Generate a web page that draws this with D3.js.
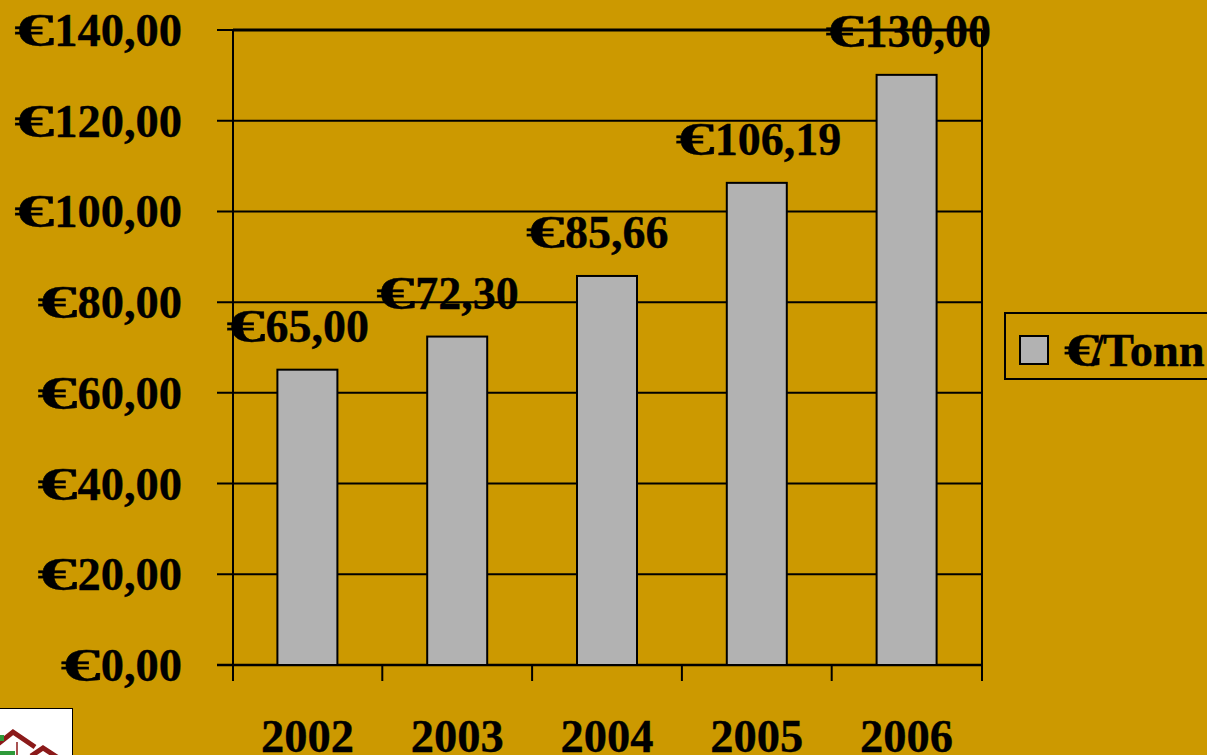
<!DOCTYPE html>
<html><head><meta charset="utf-8">
<script src="https://cdnjs.cloudflare.com/ajax/libs/d3/7.8.5/d3.min.js"></script>
<style>html,body{margin:0;padding:0;background:#cc9900;overflow:hidden}svg{display:block}text{font-family:"Liberation Serif",serif;font-weight:bold;fill:#000;stroke:#000;stroke-width:.35px}</style>
</head><body><svg id="c" width="1207" height="755"></svg>
<script>
const categories=["2002","2003","2004","2005","2006"];
const values=[65.00,72.30,85.66,106.19,130.00];
const valueLabels=["€65,00","€72,30","€85,66","€106,19","€130,00"];
const yTicks=[0,20,40,60,80,100,120,140];
const yTickLabels=["€0,00","€20,00","€40,00","€60,00","€80,00","€100,00","€120,00","€140,00"];
const legendLabel="€/Tonn";
const svg=d3.select("#c");
const L=233,R=982,T=30,B=665;
const x=d3.scaleBand().domain(categories).range([L,R]);
const y=d3.scaleLinear().domain([0,140]).range([B,T]);
const barW=60,fs=46.5,euroW=40;
const cx=d=>x(d)+x.bandwidth()/2;
// writes a label as one text with a widened euro sign
function euro(sel,get,w){
  sel.each(function(d,i){
    const s=get(d,i),t=d3.select(this);
    t.append("tspan").attr("textLength",w).attr("lengthAdjust","spacingAndGlyphs").text(s[0]);
    t.append("tspan").text(s.slice(1));
  });
}
svg.append("g").selectAll("line").data(yTicks).join("line")
 .attr("x1",217).attr("x2",R).attr("y1",d=>y(d)).attr("y2",d=>y(d))
 .attr("stroke","#000").attr("stroke-width",d=>d===0?2.5:2);
svg.append("line").attr("x1",L).attr("x2",R).attr("y1",y(140)).attr("y2",y(140)).attr("stroke","#000").attr("stroke-width",3);
svg.append("line").attr("x1",L).attr("x2",L).attr("y1",T).attr("y2",681).attr("stroke","#000").attr("stroke-width",2);
svg.append("line").attr("x1",R).attr("x2",R).attr("y1",T).attr("y2",681).attr("stroke","#000").attr("stroke-width",2);
svg.append("g").selectAll("line").data(categories.slice(1)).join("line")
 .attr("x1",d=>x(d)-.5).attr("x2",d=>x(d)-.5).attr("y1",B).attr("y2",681).attr("stroke","#000").attr("stroke-width",2);
svg.append("g").selectAll("rect").data(categories).join("rect")
 .attr("x",d=>cx(d)-barW/2-.5).attr("width",barW)
 .attr("y",(d,i)=>y(values[i])-.5).attr("height",(d,i)=>B-y(values[i])+.5)
 .attr("fill","#b2b2b2").attr("stroke","#000").attr("stroke-width",2);
svg.append("g").selectAll("text").data(yTicks).join("text")
 .attr("x",182).attr("y",d=>y(d)+16).attr("text-anchor","end").attr("font-size",fs)
 .call(euro,(d,i)=>yTickLabels[i],euroW);
svg.append("g").selectAll("text").data(categories).join("text")
 .attr("x",d=>cx(d)-.5).attr("y",752).attr("text-anchor","middle").attr("font-size",fs).text(d=>d);
svg.append("g").selectAll("text").data(categories).join("text")
 .attr("x",d=>cx(d)-81.5).attr("y",(d,i)=>y(values[i])-28.5).attr("font-size",46)
 .call(euro,(d,i)=>valueLabels[i],39);
svg.append("rect").attr("x",1005).attr("y",313).attr("width",210).attr("height",66).attr("fill","none").attr("stroke","#000").attr("stroke-width",2);
svg.append("rect").attr("x",1020).attr("y",336).attr("width",28).attr("height",28).attr("fill","#b2b2b2").attr("stroke","#000").attr("stroke-width",2);
const lt=svg.append("text").attr("x",1064).attr("y",366).attr("font-size",fs);
lt.append("tspan").attr("textLength",36).attr("lengthAdjust","spacingAndGlyphs").text(legendLabel[0]);
lt.append("tspan").attr("dx",-9).text(legendLabel[1]);
lt.append("tspan").attr("dx",-1).text(legendLabel.slice(2));
// logo in the lower-left corner
const logo=svg.append("g");
logo.append("rect").attr("x",-2).attr("y",708.5).attr("width",74.5).attr("height",60).attr("fill","#fff").attr("stroke","#000").attr("stroke-width",1);
logo.append("path").attr("d","M-2 744L13 732L35 747M31 756L43 748L57 757").attr("fill","none").attr("stroke","#8b1a1a").attr("stroke-width",5);
logo.append("path").attr("d","M17 742V755").attr("fill","none").attr("stroke","#8b1a1a").attr("stroke-width",1.5);
logo.append("path").attr("d","M0 751H15V755H0ZM0 735H4V741H0Z").attr("fill","#2f9a3a");
</script></body></html>
